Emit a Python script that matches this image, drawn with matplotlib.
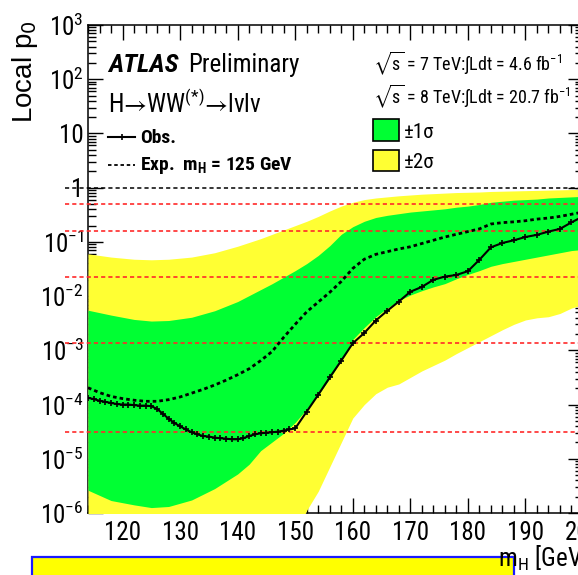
import numpy as np
import matplotlib
matplotlib.use("Agg")
import matplotlib.pyplot as plt
from matplotlib.patches import Rectangle
from matplotlib.lines import Line2D
from matplotlib.ticker import FixedLocator, LogLocator, NullFormatter

W, H = 578, 575

# ---- observed local p0 (log10) ----
mass_obs = list(range(114, 151)) + list(range(152, 201, 2))
log_p_obs = [-3.875, -3.90, -3.93, -3.95, -3.97, -3.99, -4.00, -4.00, -4.01, -4.02,
             -4.02, -4.03, -4.08, -4.17, -4.26, -4.34, -4.40, -4.46, -4.51, -4.55,
             -4.58, -4.59, -4.61, -4.62, -4.63, -4.64, -4.64, -4.62, -4.58, -4.55,
             -4.53, -4.52, -4.51, -4.50, -4.48, -4.46, -4.44,
             -4.13, -3.82, -3.50, -3.19, -2.87, -2.68, -2.45, -2.27, -2.10, -1.92,
             -1.83, -1.70, -1.64, -1.61, -1.54, -1.33, -1.10, -1.02, -0.97, -0.91,
             -0.87, -0.81, -0.76, -0.64, -0.53]

# ---- expected local p0 for a 125 GeV signal (log10) ----
mass_exp = list(range(114, 201, 2))
log_p_exp = [-3.69, -3.78, -3.85, -3.89, -3.92, -3.94, -3.94, -3.91, -3.86, -3.79,
             -3.72, -3.64, -3.55, -3.45, -3.34, -3.19, -3.02, -2.76, -2.52, -2.29,
             -2.11, -1.93, -1.73, -1.49, -1.32, -1.23, -1.18, -1.13, -1.09, -1.03,
             -0.97, -0.91, -0.86, -0.81, -0.76, -0.67, -0.645, -0.63, -0.61, -0.58,
             -0.56, -0.53, -0.49, -0.45]

# ---- +-1 sigma and +-2 sigma bands (log10) ----
mass_band = [114, 118, 122, 125, 128, 132, 136, 140, 142, 144, 146, 148, 150, 152,
             154, 156, 158, 160, 162, 164, 166, 168, 170, 172, 174, 176, 178, 180,
             182, 184, 186, 188, 190, 192, 194, 196, 198, 200]
log_1s_hi = [-2.26, -2.35, -2.43, -2.46, -2.45, -2.39, -2.27, -2.10, -1.99, -1.88,
             -1.77, -1.65, -1.53, -1.40, -1.25, -1.07, -0.86, -0.72, -0.62, -0.55,
             -0.51, -0.48, -0.45, -0.43, -0.41, -0.39, -0.36, -0.34, -0.31, -0.27,
             -0.25, -0.23, -0.22, -0.21, -0.19, -0.18, -0.17, -0.16]
log_1s_lo = [-5.58, -5.77, -5.85, -5.90, -5.88, -5.76, -5.55, -5.28, -5.10, -4.85,
             -4.69, -4.53, -4.33, -4.08, -3.82, -3.52, -3.18, -2.80, -2.58, -2.38,
             -2.22, -2.08, -1.98, -1.90, -1.83, -1.77, -1.68, -1.60, -1.53, -1.45,
             -1.40, -1.36, -1.32, -1.28, -1.24, -1.20, -1.16, -1.14]
log_2s_hi = [-1.22, -1.28, -1.32, -1.33, -1.32, -1.28, -1.20, -1.08, -1.01, -0.94,
             -0.86, -0.78, -0.70, -0.62, -0.53, -0.43, -0.34, -0.27, -0.22, -0.19,
             -0.17, -0.15, -0.135, -0.12, -0.11, -0.10, -0.09, -0.085, -0.08, -0.07,
             -0.065, -0.06, -0.055, -0.05, -0.045, -0.04, -0.035, -0.03]
log_2s_lo = [-7.8, -8.0, -8.1, -8.1, -8.0, -7.9, -7.6, -7.3, -7.1, -6.9,
             -6.7, -6.55, -6.4, -5.95, -5.6, -5.15, -4.7, -4.25, -4.00, -3.80,
             -3.68, -3.62, -3.50, -3.38, -3.28, -3.18, -3.06, -2.95, -2.84, -2.73,
             -2.62, -2.52, -2.44, -2.40, -2.38, -2.32, -2.22, -2.16]

# reference p0 levels: 1, then 0 sigma ... 4 sigma
p_unity = 1.0
sigma_levels = [0.5, 0.1587, 0.02275, 0.00135, 3.17e-5]

x_ticks = [120, 130, 140, 150, 160, 170, 180, 190, 200]
x_tick_labels = ["120", "130", "140", "150", "160", "170", "180", "190", "200"]
y_ticks = [1e-6, 1e-5, 1e-4, 1e-3, 1e-2, 1e-1, 1, 10, 1e2, 1e3]
y_tick_labels = [r"$10^{-6}$", r"$10^{-5}$", r"$10^{-4}$", r"$10^{-3}$", r"$10^{-2}$",
                 r"$10^{-1}$", "1", "10", r"$10^{2}$", r"$10^{3}$"]

GREEN = "#00ff33"
YELLOW = "#ffff33"

# ---- fonts ----
FONT = "Roboto Condensed"
plt.rcParams["font.family"] = [FONT, "DejaVu Sans"]
plt.rcParams["mathtext.fontset"] = "custom"
plt.rcParams["mathtext.rm"] = FONT
plt.rcParams["mathtext.sf"] = FONT
plt.rcParams["mathtext.it"] = FONT + ":italic"
plt.rcParams["mathtext.bf"] = FONT + ":bold"
plt.rcParams["mathtext.fallback"] = "stixsans"
plt.rcParams["lines.scale_dashes"] = False


def fx(x):
    return x / W


def fy(y):
    return 1 - y / H


fig = plt.figure(figsize=(W / 100, H / 100), dpi=100)
ax = fig.add_axes([fx(88), fy(513), (583 - 88) / W, (513 - 25) / H])
ax.set_yscale("log")
ax.set_xlim(114, 200)
ax.set_ylim(1e-6, 1e3)
ax.set_axisbelow(True)
for s in ax.spines.values():
    s.set_linewidth(1.1)
    s.set_zorder(0.6)

pow10 = lambda v: np.power(10.0, np.asarray(v))

ax.fill_between(mass_band, pow10(log_2s_lo), pow10(log_2s_hi), color=YELLOW, lw=0, zorder=1)
ax.fill_between(mass_band, pow10(log_1s_lo), pow10(log_1s_hi), color=GREEN, lw=0, zorder=1.1)

ax.plot([110, 200], [p_unity, p_unity], color="black", lw=1.1, dashes=(3, 2.2),
        clip_on=False, zorder=2)
for lvl in sigma_levels:
    ax.plot([110, 200], [lvl, lvl], color="#ff2a2a", lw=1.2, dashes=(3, 2.2),
            clip_on=False, zorder=2)

ax.plot(mass_exp, pow10(log_p_exp), color="black", lw=2.0, dashes=(2.6, 2.2), zorder=3)
ax.plot(mass_obs, pow10(log_p_obs), color="black", lw=1.5, marker="+", ms=4,
        mew=1.2, zorder=4)

ax.xaxis.set_major_locator(FixedLocator(x_ticks))
ax.xaxis.set_minor_locator(FixedLocator(list(range(114, 201, 2))))
ax.set_xticklabels(x_tick_labels)
ax.yaxis.set_major_locator(FixedLocator(y_ticks))
ax.yaxis.set_minor_locator(LogLocator(base=10, subs=np.arange(2, 10), numticks=30))
ax.yaxis.set_minor_formatter(NullFormatter())
ax.set_yticklabels(y_tick_labels)
ax.tick_params(which="both", direction="in", top=True, right=True, width=1.0)
ax.tick_params(which="major", length=11)
ax.tick_params(which="minor", length=5.5)
ax.tick_params(axis="x", which="major", labelsize=18, pad=6)
ax.tick_params(axis="y", which="major", labelsize=18, pad=3)

# y axis title
fig.text(fx(25), fy(20), r"Local p$_{0}$", rotation=90, ha="center", va="top",
         fontsize=20, family=["Liberation Sans", "DejaVu Sans"],
         math_fontfamily="dejavusans")

# labels in the upper left
fig.text(fx(108), fy(72), "ATLAS", fontsize=19, weight="bold", style="italic",
         va="baseline")
fig.text(fx(188), fy(72), "Preliminary", fontsize=18, va="baseline")
fig.text(fx(108), fy(113), "H$\u2192$WW$^{(*)}$$\u2192$l\u03bdl\u03bd",
         fontsize=18, va="baseline")
fig.add_artist(Line2D([fx(108), fx(135)], [fy(137), fy(137)], color="black", lw=1.5))
fig.add_artist(Line2D([fx(121.5)], [fy(137)], color="black", marker="+", ms=4, mew=1.2))
fig.text(fx(140), fy(143), "Obs.", fontsize=14, weight="bold", va="baseline")
fig.add_artist(Line2D([fx(108), fx(135)], [fy(165), fy(165)], color="black", lw=1.3,
                      dashes=(2.5, 2)))
fig.text(fx(140), fy(170), r"Exp.  m$_{\mathbf{H}}$ = 125 GeV", fontsize=14,
         weight="bold", va="baseline")

# labels in the upper right
fig.text(fx(373), fy(70), r"$\sqrt{\mathrm{s}}$ = 7 TeV:$\int$Ldt = 4.6 fb$^{\mathrm{-1}}$",
         fontsize=13, va="baseline")
fig.text(fx(373), fy(103), r"$\sqrt{\mathrm{s}}$ = 8 TeV:$\int$Ldt = 20.7 fb$^{\mathrm{-1}}$",
         fontsize=13, va="baseline")
fig.add_artist(Rectangle((fx(373), fy(141)), 26 / W, 22 / H, facecolor=GREEN,
                         edgecolor="black", lw=1.2, transform=fig.transFigure))
fig.add_artist(Rectangle((fx(373), fy(171)), 26 / W, 21 / H, facecolor=YELLOW,
                         edgecolor="black", lw=1.2, transform=fig.transFigure))
fig.text(fx(404), fy(138), "\u00b11\u03c3", fontsize=15, va="baseline")
fig.text(fx(404), fy(168), "\u00b12\u03c3", fontsize=15, va="baseline")

# box along the bottom edge and x axis title
fig.add_artist(Rectangle((fx(32), fy(610)), (514 - 32) / W, (610 - 557) / H,
                         facecolor="#ffff00", edgecolor="#1a1aff", lw=1.6,
                         transform=fig.transFigure, zorder=5))
fig.text(fx(498), fy(567), r"m$_{\mathrm{H}}$ [GeV]", fontsize=18, va="baseline",
         zorder=6)

fig.savefig("out.png", dpi=100)
